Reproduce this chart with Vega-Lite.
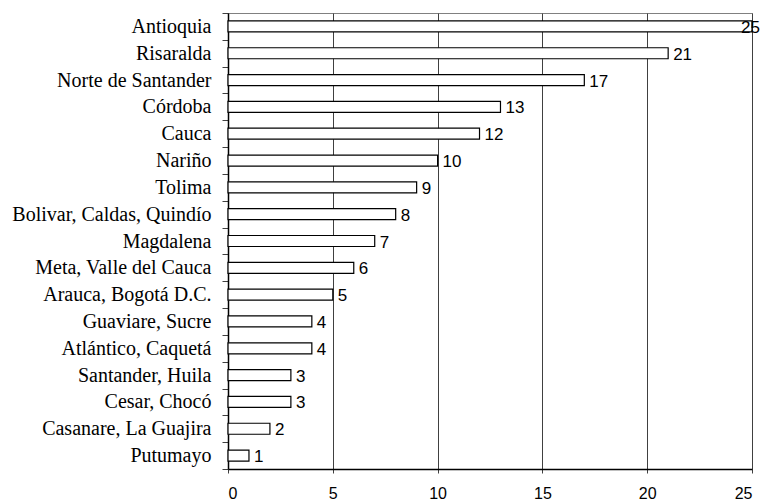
{
  "$schema": "https://vega.github.io/schema/vega-lite/v6.json",
  "autosize": {"type": "none"},
  "padding": {"left": 228, "top": 13, "right": 8, "bottom": 32},
  "width": 524,
  "height": 456,
  "background": "white",
  "config": {
    "view": {"stroke": "#808080", "strokeWidth": 1},
    "axis": {"labelColor": "black", "domainColor": "black", "tickColor": "#404040"}
  },
  "data": {
    "values": [
      {"dept": "Antioquia", "value": 25},
      {"dept": "Risaralda", "value": 21},
      {"dept": "Norte de Santander", "value": 17},
      {"dept": "Córdoba", "value": 13},
      {"dept": "Cauca", "value": 12},
      {"dept": "Nariño", "value": 10},
      {"dept": "Tolima", "value": 9},
      {"dept": "Bolivar, Caldas, Quindío", "value": 8},
      {"dept": "Magdalena", "value": 7},
      {"dept": "Meta, Valle del Cauca", "value": 6},
      {"dept": "Arauca, Bogotá D.C.", "value": 5},
      {"dept": "Guaviare, Sucre", "value": 4},
      {"dept": "Atlántico, Caquetá", "value": 4},
      {"dept": "Santander, Huila", "value": 3},
      {"dept": "Cesar, Chocó ", "value": 3},
      {"dept": "Casanare, La Guajira", "value": 2},
      {"dept": "Putumayo", "value": 1}
    ]
  },
  "encoding": {
    "y": {
      "field": "dept",
      "type": "nominal",
      "sort": null,
      "scale": {"paddingInner": 0, "paddingOuter": 0},
      "axis": {
        "title": null,
        "tickBand": "extent",
        "tickSize": 6,
        "labelPadding": 11,
        "labelFont": "Liberation Serif",
        "labelFontSize": 20,
        "labelLimit": 300,
        "domainWidth": 1.5
      }
    },
    "x": {
      "field": "value",
      "type": "quantitative",
      "scale": {"domain": [0, 25], "nice": false},
      "axis": {
        "title": null,
        "values": [0, 5, 10, 15, 20, 25],
        "tickSize": 4,
        "labelPadding": 12,
        "labelFont": "Liberation Sans",
        "labelFontSize": 16,
        "grid": true,
        "gridColor": "#404040",
        "gridOpacity": 1,
        "gridWidth": 1,
        "domainWidth": 1.5
      }
    }
  },
  "layer": [
    {
      "mark": {"type": "bar", "size": 11, "fill": "white", "stroke": "black", "strokeWidth": 1.2}
    },
    {
      "transform": [{"filter": "datum.value < 25"}],
      "mark": {"type": "text", "align": "left", "baseline": "middle", "dx": 5, "dy": 1.5, "font": "Liberation Sans", "fontSize": 17, "color": "black"},
      "encoding": {"text": {"field": "value", "type": "quantitative"}}
    },
    {
      "transform": [{"filter": "datum.value >= 25"}],
      "mark": {"type": "text", "align": "right", "baseline": "middle", "dx": 8, "dy": 1.5, "font": "Liberation Sans", "fontSize": 17, "color": "black", "clip": false},
      "encoding": {"text": {"field": "value", "type": "quantitative"}}
    }
  ]
}
